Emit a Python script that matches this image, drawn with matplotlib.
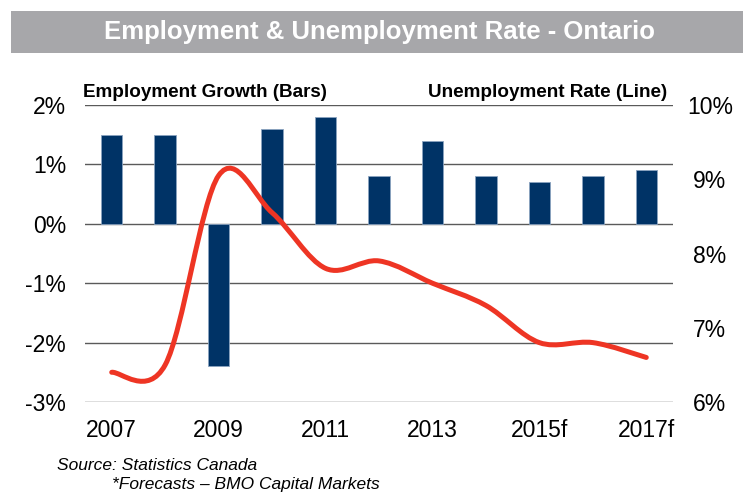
import matplotlib
matplotlib.use("Agg")
import matplotlib.pyplot as plt
from matplotlib.patches import Rectangle, PathPatch
from matplotlib.path import Path

plt.rcParams['font.family'] = ['Liberation Sans', 'DejaVu Sans']

# Annual data, Ontario
years = ['2007', '2008', '2009', '2010', '2011', '2012',
         '2013', '2014', '2015f', '2016f', '2017f']
emp_growth = [1.5, 1.5, -2.4, 1.6, 1.8, 0.8, 1.4, 0.8, 0.7, 0.8, 0.9]
unemp_rate = [6.4, 6.5, 9.05, 8.55, 7.8, 7.9, 7.6, 7.3, 6.8, 6.8, 6.6]
tick_labels = ['2007', '2009', '2011', '2013', '2015f', '2017f']

navy = '#003366'
red = '#ee3524'
grid_col = '#5a5a5a'

fig = plt.figure(figsize=(7.43, 4.94), dpi=100)

# grey title banner
fig.patches.append(Rectangle((11 / 743, 1 - 53 / 494), 1 - 11 / 743, 42 / 494,
                             transform=fig.transFigure, facecolor='#a7a7aa',
                             edgecolor='none'))
fig.text(380 / 743, 1 - 32 / 494, 'Employment & Unemployment Rate - Ontario',
         color='white', fontsize=18.5, fontweight='bold', ha='center', va='center')

ax = fig.add_axes([85 / 743, 1 - 402 / 494, 588 / 743, 297 / 494])
x = list(range(len(years)))
ax.bar(x, emp_growth, width=0.4, color=navy, edgecolor='#8aa3c0',
       linewidth=0.6, zorder=2)
ax.set_xlim(-0.5, len(years) - 0.5)
ax.set_ylim(-3, 2)
ax.set_yticks([-3, -2, -1, 0, 1, 2])
ax.set_yticklabels(['-3%', '-2%', '-1%', '0%', '1%', '2%'])
ax.set_xticks(x[::2])
ax.set_xticklabels(tick_labels)
ax.tick_params(length=0, labelsize=16.5, colors='black')
ax.tick_params(axis='y', pad=13.5)
ax.tick_params(axis='x', pad=12)
ax.grid(axis='y', color=grid_col, linewidth=1.0, zorder=0)
for s in ax.spines.values():
    s.set_visible(False)

# unemployment rate on the right axis, drawn as a smoothed curve
ax2 = ax.twinx()
ax2.set_ylim(6, 10)
ax2.set_yticks([6, 7, 8, 9, 10])
ax2.set_yticklabels(['6%', '7%', '8%', '9%', '10%'])
ax2.tick_params(length=0, labelsize=16.5, pad=26.5)
for t in ax2.get_yticklabels():
    t.set_horizontalalignment('center')
for s in ax2.spines.values():
    s.set_visible(False)

pts = list(zip(x, unemp_rate))
verts = [pts[0]]
codes = [Path.MOVETO]
n = len(pts)
for i in range(n - 1):
    p0 = pts[max(i - 1, 0)]
    p1 = pts[i]
    p2 = pts[i + 1]
    p3 = pts[min(i + 2, n - 1)]
    c1 = (p1[0] + (p2[0] - p0[0]) / 6, p1[1] + (p2[1] - p0[1]) / 6)
    c2 = (p2[0] - (p3[0] - p1[0]) / 6, p2[1] - (p3[1] - p1[1]) / 6)
    verts += [c1, c2, p2]
    codes += [Path.CURVE4] * 3
ax2.add_patch(PathPatch(Path(verts, codes), facecolor='none', edgecolor=red,
                        linewidth=3.6, capstyle='round', joinstyle='round',
                        zorder=3))

fig.text(83 / 743, 1 - 97 / 494, 'Employment Growth (Bars)', fontsize=13.6,
         fontweight='bold', ha='left', va='baseline')
fig.text(667 / 743, 1 - 97 / 494, 'Unemployment Rate (Line)', fontsize=13.6,
         fontweight='bold', ha='right', va='baseline')

fig.text(57 / 743, 1 - 465 / 494, 'Source: Statistics Canada', fontsize=12.5,
         style='italic', va='center')
fig.text(112 / 743, 1 - 484 / 494, '*Forecasts \u2013 BMO Capital Markets',
         fontsize=12.5, style='italic', va='center')

fig.savefig('out.png', dpi=100)
